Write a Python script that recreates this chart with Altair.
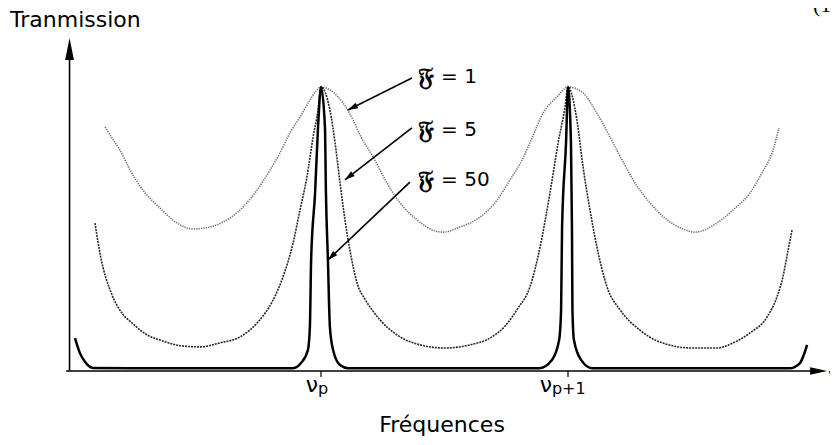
import altair as alt
import pandas as pd

# Frequency in units of the free spectral range (nu_p = 0, nu_{p+1} = 1), transmission 0..1
F1_NU = [-0.874, -0.846, -0.814, -0.773, -0.721, -0.652, -0.583, -0.518, -0.449, -0.381,
         -0.316, -0.259, -0.206, -0.166, -0.126, -0.085, -0.045, -0.020, 0.0, 0.049,
         0.089, 0.130, 0.158, 0.211, 0.267, 0.320, 0.389, 0.453, 0.494, 0.563,
         0.644, 0.713, 0.765, 0.814, 0.854, 0.899, 0.955, 1.0, 1.061, 1.117,
         1.170, 1.219, 1.271, 1.332, 1.401, 1.466, 1.514, 1.603, 1.668, 1.737,
         1.785, 1.830, 1.854]
F1_T = [0.859, 0.820, 0.778, 0.708, 0.637, 0.574, 0.521, 0.500, 0.507, 0.532,
        0.577, 0.637, 0.708, 0.768, 0.838, 0.894, 0.954, 0.986, 1.0, 0.982,
        0.944, 0.884, 0.831, 0.754, 0.662, 0.592, 0.532, 0.496, 0.489, 0.507,
        0.542, 0.602, 0.673, 0.743, 0.820, 0.908, 0.965, 1.0, 0.979, 0.908,
        0.824, 0.743, 0.662, 0.592, 0.532, 0.500, 0.489, 0.521, 0.567, 0.627,
        0.697, 0.778, 0.856]

F5_NU = [-0.915, -0.895, -0.846, -0.806, -0.765, -0.704, -0.652, -0.559, -0.490, -0.409,
         -0.328, -0.259, -0.194, -0.154, -0.113, -0.085, -0.057, -0.032, -0.012, 0.0,
         0.036, 0.057, 0.077, 0.097, 0.117, 0.146, 0.18, 0.211, 0.267, 0.320,
         0.401, 0.502, 0.603, 0.684, 0.745, 0.798, 0.846, 0.887, 0.927, 0.960,
         0.988, 1.0, 1.036, 1.061, 1.089, 1.117, 1.158, 1.211, 1.291, 1.372,
         1.502, 1.603, 1.668, 1.737, 1.806, 1.846, 1.870, 1.891, 1.907]
F5_T = [0.521, 0.415, 0.268, 0.204, 0.169, 0.127, 0.109, 0.088, 0.085, 0.099,
        0.120, 0.169, 0.250, 0.331, 0.451, 0.567, 0.683, 0.824, 0.919, 1.0,
        0.919, 0.803, 0.662, 0.532, 0.426, 0.31, 0.25, 0.21, 0.155, 0.120,
        0.092, 0.081, 0.092, 0.116, 0.158, 0.222, 0.296, 0.437, 0.627, 0.803,
        0.930, 1.0, 0.884, 0.718, 0.567, 0.437, 0.296, 0.215, 0.144, 0.102,
        0.081, 0.081, 0.099, 0.134, 0.190, 0.261, 0.331, 0.426, 0.496]

F50_NU = [-0.996, -0.976, -0.955, -0.923, -0.773, -0.490, -0.166, -0.113, -0.081, -0.053,
          -0.045, -0.040, -0.024, -0.012, 0.0, 0.016, 0.020, 0.028, 0.036, 0.049,
          0.077, 0.109, 0.49, 0.883, 0.935, 0.964, 0.972, 0.976, 0.992, 1.0,
          1.012, 1.016, 1.018, 1.024, 1.053, 1.097, 1.5, 1.899, 1.939, 1.960, 1.968]
F50_T = [0.116, 0.063, 0.032, 0.011, 0.010, 0.010, 0.010, 0.010, 0.028, 0.074,
         0.155, 0.391, 0.627, 0.859, 1.0, 0.859, 0.627, 0.391, 0.155, 0.074,
         0.021, 0.010, 0.010, 0.010, 0.039, 0.109, 0.215, 0.507, 0.803, 1.0,
         0.803, 0.507, 0.215, 0.109, 0.039, 0.010, 0.010, 0.010, 0.028, 0.070, 0.092]

# Annotations
FRAK = ["\U0001D509", "\U0001D509", "\U0001D509"]
CURVE_VALUES = ["= 1", "= 5", "= 50"]
LABEL_NU = [0.393, 0.393, 0.393]
VALUE_NU = [0.486, 0.486, 0.486]
LABEL_T = [1.035, 0.849, 0.673]
LEADER_NU0 = [0.368, 0.368, 0.360]
LEADER_T0 = [1.032, 0.856, 0.665]
LEADER_NU1 = [0.109, 0.097, 0.028]
LEADER_T1 = [0.919, 0.673, 0.391]
LEADER_ANGLE = [243.4, 232.2, 226.4]
TICK_NU = [0.0, 1.0]

FONT = "DejaVu Sans"
xs = alt.Scale(domain=[-1.2672, 2.0607], nice=False, zero=False)
ys = alt.Scale(domain=[-0.2324, 1.2782], nice=False, zero=False)


def X(f="nu"):
    return alt.X(f"{f}:Q", scale=xs, axis=None)


def Y(f="T"):
    return alt.Y(f"{f}:Q", scale=ys, axis=None)


d1 = pd.DataFrame({"nu": F1_NU, "T": F1_T})
d5 = pd.DataFrame({"nu": F5_NU, "T": F5_T})
d50 = pd.DataFrame({"nu": F50_NU, "T": F50_T})

c1 = alt.Chart(d1).mark_line(color="#6a6a6a", strokeWidth=1.6, strokeDash=[1.2, 1.2],
                             interpolate="monotone").encode(x=X(), y=Y())
c5 = alt.Chart(d5).mark_line(color="#262626", strokeWidth=1.6, strokeDash=[2, 1],
                             interpolate="monotone").encode(x=X(), y=Y())
c50 = alt.Chart(d50).mark_line(color="black", strokeWidth=2.5,
                               interpolate="monotone").encode(x=X(), y=Y())

# Axes drawn by hand
axes_df = pd.DataFrame({"nu": [-1.018, -1.032], "T": [0.0, 0.0],
                        "nu2": [-1.018, 2.03], "T2": [1.12, 0.0]})
axes = alt.Chart(axes_df).mark_rule(color="black", strokeWidth=1.6).encode(
    x=X(), y=Y(), x2="nu2:Q", y2="T2:Q")
head_df = pd.DataFrame({"nu": [-1.018, 2.049], "T": [1.173, 0.0], "ang": [0, 90]})
yhead = alt.Chart(head_df.iloc[[0]]).mark_point(
    shape="M0,0L0.4,2L-0.4,2Z", filled=True, size=484, color="black", opacity=1).encode(
    x=X(), y=Y(), angle=alt.Angle("ang:Q", scale=None))
xhead = alt.Chart(head_df.iloc[[1]]).mark_point(
    shape="M0,0L0.45,2L-0.45,2Z", filled=True, size=289, color="black", opacity=1).encode(
    x=X(), y=Y(), angle=alt.Angle("ang:Q", scale=None))

tick_df = pd.DataFrame({"nu": TICK_NU, "T": [0.0, 0.0], "T2": [-0.021, -0.021]})
ticks = alt.Chart(tick_df).mark_rule(color="black", strokeWidth=1.2).encode(
    x=X(), y=Y(), y2="T2:Q")

# Leader lines with arrowheads
lead_df = pd.DataFrame({"nu": LEADER_NU0, "T": LEADER_T0, "nu2": LEADER_NU1,
                        "T2": LEADER_T1, "ang": LEADER_ANGLE})
leaders = alt.Chart(lead_df).mark_rule(color="black", strokeWidth=1.6).encode(
    x=X(), y=Y(), x2="nu2:Q", y2="T2:Q")
lheads = alt.Chart(lead_df).mark_point(
    shape="M0,0L0.6,2L-0.6,2Z", filled=True, size=100, color="black", opacity=1).encode(
    x=X("nu2"), y=Y("T2"), angle=alt.Angle("ang:Q", scale=None))

frak_df = pd.DataFrame({"nu": LABEL_NU, "T": LABEL_T, "text": FRAK})
frak = alt.Chart(frak_df).mark_text(align="left", baseline="middle", font=FONT,
                                    fontSize=25, fontWeight="bold", color="black").encode(
    x=X(), y=Y(), text="text:N")
val_df = pd.DataFrame({"nu": VALUE_NU, "T": LABEL_T, "text": CURVE_VALUES})
vals = alt.Chart(val_df).mark_text(align="left", baseline="middle", font=FONT,
                                   fontSize=20, color="black").encode(
    x=X(), y=Y(), text="text:N")

# Axis texts
big_df = pd.DataFrame({"nu": [-1.259, 0.490, 2.053], "T": [1.211, -0.215, -0.042],
                       "text": ["Tranmission", "Fréquences", "ν"]})
big_left = alt.Chart(big_df.iloc[[0, 2]]).mark_text(
    align="left", baseline="alphabetic", font=FONT, fontSize=22, color="black").encode(
    x=X(), y=Y(), text="text:N")
big_center = alt.Chart(big_df.iloc[[1]]).mark_text(
    align="center", baseline="alphabetic", font=FONT, fontSize=22, color="black").encode(
    x=X(), y=Y(), text="text:N")

nu_df = pd.DataFrame({"nu": [-0.012, 0.935], "T": [-0.074, -0.074], "text": ["ν", "ν"]})
nus = alt.Chart(nu_df).mark_text(align="right", baseline="alphabetic", font=FONT,
                                 fontSize=22, color="black").encode(
    x=X(), y=Y(), text="text:N")
sub_df = pd.DataFrame({"nu": [-0.012, 0.935], "T": [-0.081, -0.081], "text": ["p", "p+1"]})
subs = alt.Chart(sub_df).mark_text(align="left", baseline="alphabetic", font=FONT,
                                   fontSize=16, color="black").encode(
    x=X(), y=Y(), text="text:N")

eq_df = pd.DataFrame({"nu": [1.992], "T": [1.264], "text": ["(1"]})
eq = alt.Chart(eq_df).mark_text(align="left", baseline="alphabetic",
                                font="Liberation Serif", fontSize=22, color="black").encode(
    x=X(), y=Y(), text="text:N")

chart = alt.layer(c1, c5, axes, ticks, c50, yhead, xhead, leaders, lheads, frak, vals,
                  big_left, big_center, nus, subs, eq).properties(
    width=822, height=429, padding=0, background="white",
    autosize=alt.AutoSizeParams(type="none"),
).configure_view(strokeWidth=0, stroke="transparent")

chart.save("out.html", embed_options={"renderer": "svg", "actions": False})
